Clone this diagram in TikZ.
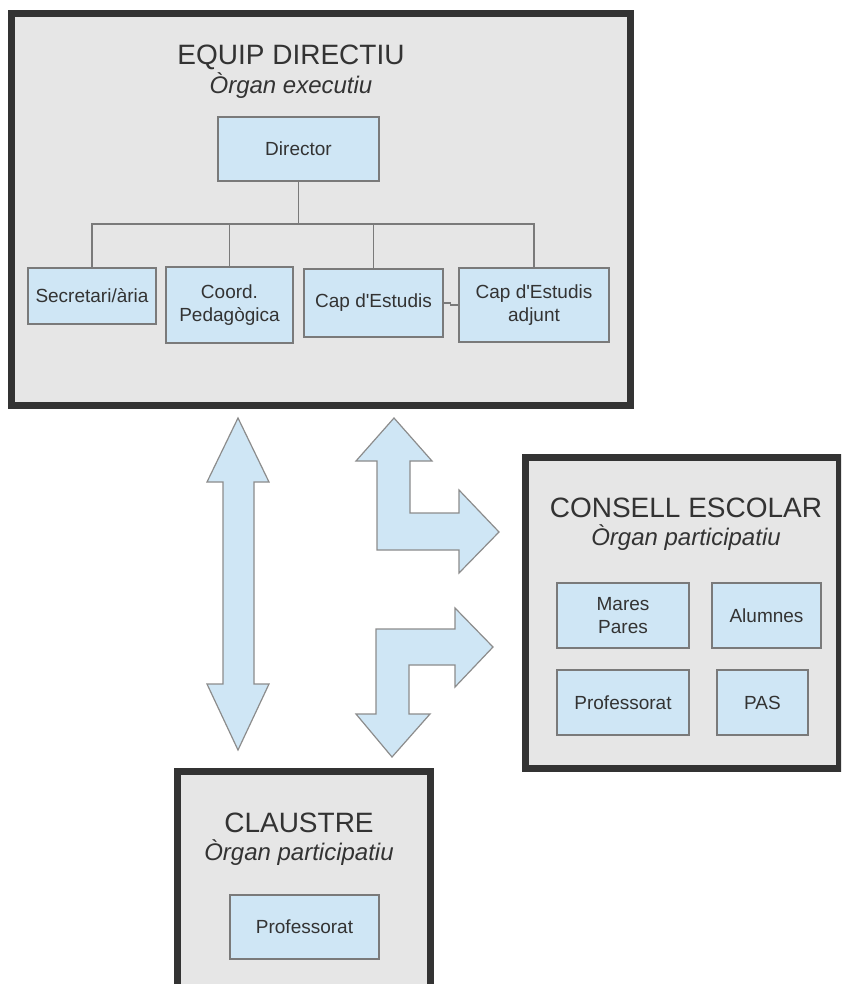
\documentclass[tikz,border=0pt]{standalone}
\usepackage{fontspec}
\setmainfont{Liberation Sans}
\definecolor{frame}{HTML}{333333}
\definecolor{panel}{HTML}{E6E6E6}
\definecolor{cell}{HTML}{CFE6F5}
\definecolor{cellline}{HTML}{7A7A7A}
\definecolor{txt}{HTML}{333333}
\definecolor{arrline}{HTML}{8C8C8C}
\tikzset{
  cellbox/.style={draw=cellline, fill=cell, line width=1.2pt, text=txt, align=center,
     font=\fontsize{19}{23}\selectfont, inner sep=0pt},
  titletxt/.style={text=txt, font=\fontsize{28}{30}\selectfont, inner sep=0pt},
  subtxt/.style={text=txt, font=\fontsize{24}{26}\selectfont\itshape, inner sep=0pt},
  conn/.style={draw=cellline, line width=1.2pt},
  bigarrow/.style={fill=cell, draw=arrline, line width=1.2pt, line join=miter},
  panelframe/.style={draw=frame, line width=7pt, fill=panel},
}
\begin{document}
\begin{tikzpicture}[x=1pt,y=-1pt]
\useasboundingbox (0,0) rectangle (841,984);
\clip (0,0) rectangle (841,984);
\fill[white] (0,0) rectangle (841,984);

% panels
\draw[panelframe] (11.5,14) rectangle (630.5,405.5);
\draw[panelframe] (525,457) rectangle (839.5,768.5);
\draw[panelframe] (177.5,771.5) rectangle (430.5,1010);

% EQUIP DIRECTIU
\node[titletxt] (t1) at (291,57) {EQUIP DIRECTIU};
\node[subtxt] (s1) at (291,86) {Òrgan executiu};
\node[cellbox, minimum width=161pt, minimum height=64pt] (dir) at (298.5,149) {Director};
\node[cellbox, minimum width=128pt, minimum height=56pt] (sec) at (92,296) {Secretari/ària};
\node[cellbox, minimum width=127pt, minimum height=76pt] (coo) at (229.5,305) {Coord.\\Pedagògica};
\node[cellbox, minimum width=139pt, minimum height=68pt] (cap) at (373.5,303) {Cap d\textquotesingle Estudis};
\node[cellbox, minimum width=150pt, minimum height=74pt] (adj) at (534,305) {Cap d\textquotesingle Estudis\\adjunt};
\coordinate (bus) at (298.5,224);
\draw[conn] (dir.south) -- (bus);
\draw[conn] (sec.north) |- (bus);
\draw[conn] (coo.north) |- (bus);
\draw[conn] (cap.north) |- (bus);
\draw[conn] (adj.north) |- (bus);
\draw[conn] (cap.east) -- ++(7,0) -- ++(0,2) -- (adj.west);

% CONSELL ESCOLAR
\node[titletxt] (t2) at (686,508) {CONSELL ESCOLAR};
\node[subtxt] (s2) at (686,538) {Òrgan participatiu};
\node[cellbox, minimum width=132pt, minimum height=65pt] (mp) at (623,615.5) {Mares\\Pares};
\node[cellbox, minimum width=109pt, minimum height=65pt] (alu) at (766.5,615.5) {Alumnes};
\node[cellbox, minimum width=132pt, minimum height=65pt] (pro) at (623,702.5) {Professorat};
\node[cellbox, minimum width=91pt, minimum height=65pt] (pas) at (762.5,702.5) {PAS};

% CLAUSTRE
\node[titletxt] (t3) at (299,823) {CLAUSTRE};
\node[subtxt] (s3) at (299,853) {Òrgan participatiu};
\node[cellbox, minimum width=149pt, minimum height=64pt] (pcl) at (304.5,927) {Professorat};

% block arrows
\draw[bigarrow] (238,418) -- (269,482) -- (254,482) -- (254,684) -- (269,684) -- (238,750)
  -- (207,684) -- (223,684) -- (223,482) -- (207,482) -- cycle;
\draw[bigarrow] (394,418) -- (432,461) -- (410,461) -- (410,513) -- (459,513) -- (459,490)
  -- (499,532) -- (459,573) -- (459,550) -- (377,550) -- (377,461) -- (356,461) -- cycle;
\draw[bigarrow] (376,629) -- (455,629) -- (455,608) -- (493,647) -- (455,687) -- (455,665)
  -- (409,665) -- (409,714) -- (430,714) -- (392,757) -- (356,714) -- (376,714) -- cycle;
\end{tikzpicture}
\end{document}
